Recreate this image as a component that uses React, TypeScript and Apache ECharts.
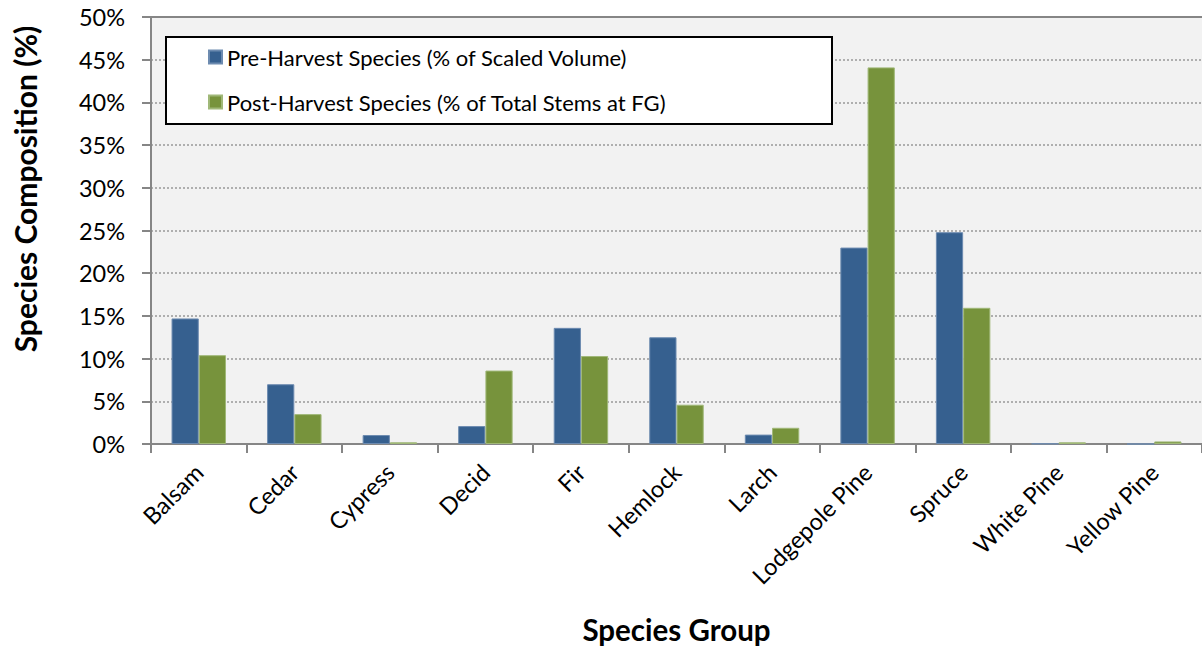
import React, { useEffect, useRef } from "react";
import * as echarts from "echarts";

const categories = ["Balsam", "Cedar", "Cypress", "Decid", "Fir", "Hemlock", "Larch", "Lodgepole Pine", "Spruce", "White Pine", "Yellow Pine"];
const preHarvest = [14.7, 7.0, 1.05, 2.1, 13.6, 12.5, 1.1, 23.0, 24.8, 0.05, 0];
const postHarvest = [10.4, 3.5, 0.2, 8.6, 10.3, 4.6, 1.9, 44.1, 15.95, 0.2, 0.3];
const seriesNames = ["Pre-Harvest Species (% of Scaled Volume)", "Post-Harvest Species (% of Total Stems at FG)"];
const yTicks = { min: 0, max: 50, interval: 5 };

const FONT = "Lato, 'Open Sans', sans-serif";

export default function App() {
  const ref = useRef<HTMLDivElement>(null);
  useEffect(() => {
    document.body.style.margin = "0";
    const chart = echarts.init(ref.current!, null, { renderer: "svg" });
    chart.setOption({
      animation: false,
      textStyle: { fontFamily: FONT },
      grid: {
        left: 151, top: 17, width: 1060, height: 429,
        show: true, backgroundColor: "#f2f2f2", borderWidth: 0,
      },
      legend: {
        orient: "vertical",
        left: 203, top: 41,
        itemWidth: 13, itemHeight: 13, itemGap: 23,
        icon: "rect",
        z: 10,
        textStyle: { fontSize: 22, color: "#000", fontFamily: FONT },
        data: seriesNames,
      },
      graphic: [
        {
          type: "rect", z: 5,
          shape: { x: 166, y: 37, width: 666, height: 87 },
          style: { fill: "#fff", stroke: "#000", lineWidth: 2 },
        },
        {
          type: "text", z: 5,
          x: 25, y: 189, rotation: Math.PI / 2,
          style: {
            text: "Species Composition (%)", fontSize: 30, fontWeight: "bold",
            fontFamily: FONT, fill: "#000", align: "center", verticalAlign: "middle",
          },
        },
      ],
      xAxis: [
        {
          type: "category", data: categories,
          axisLine: { lineStyle: { color: "#868686", width: 2 } },
          axisTick: { show: true, length: 9, alignWithLabel: false, lineStyle: { color: "#868686", width: 2 } },
          axisLabel: { rotate: 45, fontSize: 23.5, color: "#000", margin: 24, fontFamily: FONT, interval: 0 },
          name: "Species Group", nameLocation: "middle", nameGap: 170,
          nameTextStyle: { fontSize: 29.5, fontWeight: "bold", color: "#000", fontFamily: FONT },
        },
        {
          type: "category", data: categories, position: "top",
          axisLine: { lineStyle: { color: "#868686", width: 2 } },
          axisTick: { show: false }, axisLabel: { show: false },
        },
      ],
      yAxis: {
        type: "value", min: yTicks.min, max: yTicks.max, interval: yTicks.interval,
        axisLine: { show: true, lineStyle: { color: "#868686", width: 2 } },
        axisTick: { show: true, length: 9, lineStyle: { color: "#868686", width: 2 } },
        axisLabel: { formatter: "{value}%", fontSize: 23.5, color: "#000", margin: 26, fontFamily: FONT },
        splitLine: { show: true, lineStyle: { color: "#999", type: [2, 2], width: 1.5 } },
      },
      series: [
        {
          name: seriesNames[0], type: "bar", data: preHarvest,
          barGap: "0%", barCategoryGap: "43%",
          itemStyle: { color: "#36608f", borderColor: "#6d8bb0", borderWidth: 1 },
        },
        {
          name: seriesNames[1], type: "bar", data: postHarvest,
          itemStyle: { color: "#77933c", borderColor: "#a0b878", borderWidth: 1 },
        },
      ],
    });
    return () => chart.dispose();
  }, []);
  return <div ref={ref} style={{ width: 1202, height: 649 }} />;
}
